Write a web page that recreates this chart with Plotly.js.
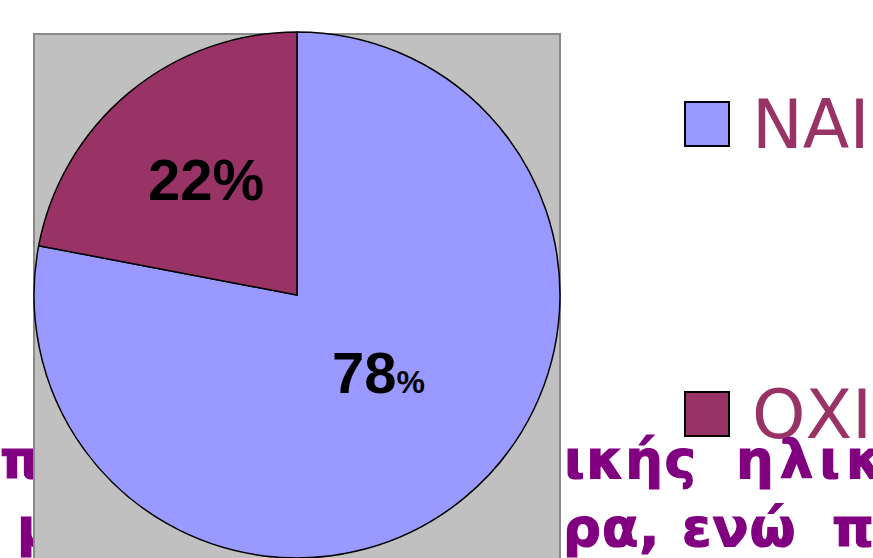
<!DOCTYPE html>
<html>
<head>
<meta charset="utf-8">
<script src="https://cdn.plot.ly/plotly-3.0.1.min.js"></script>
<style>
  html, body { margin:0; padding:0; background:#ffffff; }
  #wrap { position:relative; width:873px; height:558px; overflow:hidden; }
  #bgtext { position:absolute; left:0; top:0; z-index:0; }
  #chart { position:absolute; left:0; top:0; width:873px; height:558px; z-index:1; }
</style>
</head>
<body>
<div id="wrap">
  <svg id="bgtext" width="873" height="558" xmlns="http://www.w3.org/2000/svg">
    <g font-family="DejaVu Sans, Verdana, sans-serif" font-weight="bold" font-size="53" fill="#800080" stroke="#800080" stroke-width="1.2">
      <text x="0" y="478">παιδιά</text>
      <text x="564" y="478" letter-spacing="1.5">ικής</text>
      <text x="736" y="478" letter-spacing="6">ηλικίας</text>
      <text x="17" y="546">μέχρι</text>
      <text x="563" y="546" letter-spacing="1">ρα,</text>
      <text x="682" y="546" letter-spacing="1">ενώ</text>
      <text x="832" y="546">πολλά</text>
    </g>
  </svg>
  <div id="chart"></div>
</div>
<script>
// ---- data ----
var labels = ['ΝΑΙ', 'ΟΧΙ'];
var values = [78, 22];
var colors = ['#9999FF', '#993366'];

var W = 873, H = 558;
function px(x) { return x / W; }
function py(y) { return 1 - y / H; }

var trace = {
  type: 'pie',
  labels: labels,
  values: values,
  textinfo: 'none',
  sort: false,
  direction: 'clockwise',
  rotation: 0,
  hoverinfo: 'none',
  showlegend: false,
  marker: { colors: colors, line: { color: '#000000', width: 1.5 } },
  domain: { x: [px(34), px(560)], y: [0, 1 - 32 / H] }
};

var shapes = [{
  type: 'rect', xref: 'paper', yref: 'paper', layer: 'below',
  x0: px(34), x1: px(560), y0: py(600), y1: py(34),
  fillcolor: '#C0C0C0', line: { color: '#8a8a8a', width: 2 }
}];
var annotations = [];

// percentage labels inside slices
var pctFont = { family: 'Liberation Sans, Arial, sans-serif', size: 58, color: '#000000', weight: 'bold' };
var pctPos = [[378, 372], [206, 180]];
values.forEach(function (v, i) {
  annotations.push({
    xref: 'paper', yref: 'paper', x: px(pctPos[i][0]), y: py(pctPos[i][1]),
    xanchor: 'center', yanchor: 'middle', showarrow: false,
    text: '<b>' + v + (i === 0 ? '<span style="font-size:32px">%</span>' : '%') + '</b>',
    font: pctFont
  });
});

// legend
var legendY = [124, 414];
labels.forEach(function (lab, i) {
  shapes.push({
    type: 'rect', xref: 'paper', yref: 'paper', layer: 'above',
    x0: px(685), x1: px(729), y0: py(legendY[i] + 22), y1: py(legendY[i] - 22),
    fillcolor: colors[i], line: { color: '#000000', width: 2 }
  });
  annotations.push({
    xref: 'paper', yref: 'paper', x: px(750), y: py(legendY[i]),
    xanchor: 'left', yanchor: 'middle', showarrow: false,
    text: lab, font: { family: 'DejaVu Sans, Verdana, sans-serif', size: 68, color: '#993366' }
  });
});

var layout = {
  width: W, height: H,
  margin: { l: 0, r: 0, t: 0, b: 0 },
  paper_bgcolor: 'rgba(0,0,0,0)',
  plot_bgcolor: 'rgba(0,0,0,0)',
  showlegend: false,
  shapes: shapes,
  annotations: annotations
};

Plotly.newPlot('chart', [trace], layout, { displayModeBar: false, staticPlot: true });
</script>
</body>
</html>
